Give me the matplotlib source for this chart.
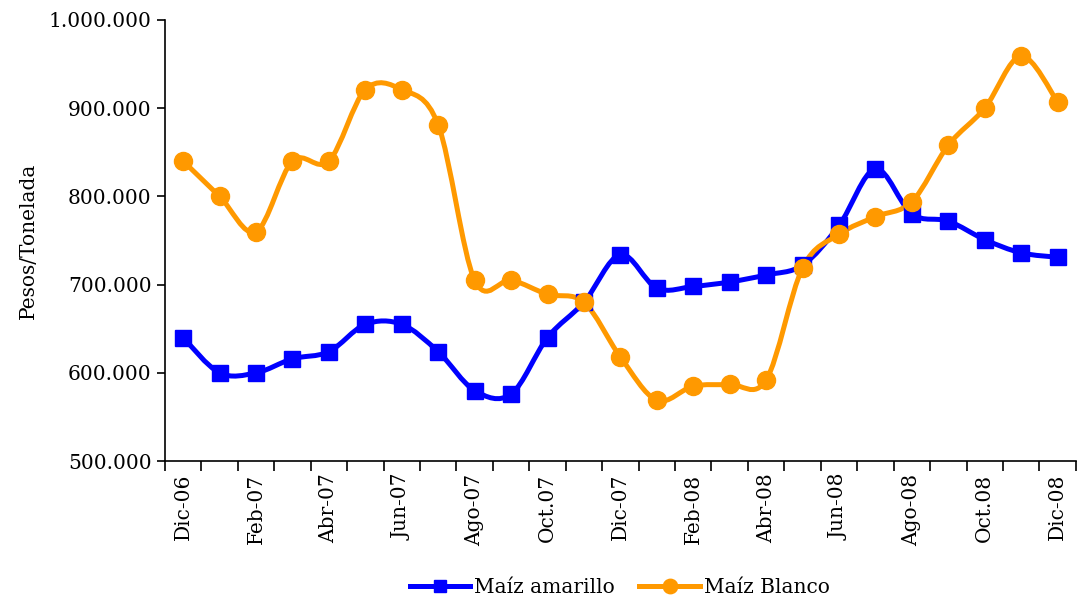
#!/usr/bin/env python3
import numpy as np
import matplotlib
matplotlib.use("Agg")
import matplotlib.pyplot as plt
from matplotlib.path import Path
from matplotlib.patches import PathPatch
from matplotlib.ticker import FuncFormatter, FixedLocator

meses = ["Dic-06", "Ene-07", "Feb-07", "Mar-07", "Abr-07", "May-07", "Jun-07",
         "Jul-07", "Ago-07", "Sep-07", "Oct.07", "Nov-07", "Dic-07", "Ene-08",
         "Feb-08", "Mar-08", "Abr-08", "May-08", "Jun-08", "Jul-08", "Ago-08",
         "Sep-08", "Oct.08", "Nov-08", "Dic-08"]

amarillo = [640000, 600000, 600000, 616000, 624000, 655000, 655000, 624000,
            580000, 576000, 640000, 680000, 734000, 696000, 698000, 703000,
            711000, 722000, 767000, 831000, 780000, 772000, 751000, 736000, 731000]

blanco = [840000, 800000, 760000, 840000, 840000, 921000, 921000, 881000,
          705000, 705000, 689000, 680000, 618000, 569000, 585000, 587000,
          592000, 719000, 757000, 777000, 794000, 858000, 900000, 959000, 907000]

AZUL = "#0000FF"
NARANJA = "#FF9900"


def smooth_path(x, y):
    # bezier curve like excel smoothed lines
    x = np.asarray(x, float)
    y = np.asarray(y, float)
    verts = [(x[0], y[0])]
    codes = [Path.MOVETO]
    n = len(x)
    for i in range(n - 1):
        i0 = max(i - 1, 0)
        i3 = min(i + 2, n - 1)
        c1 = (x[i] + (x[i + 1] - x[i0]) / 6, y[i] + (y[i + 1] - y[i0]) / 6)
        c2 = (x[i + 1] - (x[i3] - x[i]) / 6, y[i + 1] - (y[i3] - y[i]) / 6)
        verts += [c1, c2, (x[i + 1], y[i + 1])]
        codes += [Path.CURVE4] * 3
    return Path(verts, codes)


plt.rcParams['font.family'] = ['DejaVu Serif']
FS = 14.5

fig = plt.figure(figsize=(10.78, 6.02), dpi=100)
ax = fig.add_axes([0.153, 0.234, 0.845, 0.733])

xs = np.arange(len(meses))
for vals, col, mk, ms, lab in [(amarillo, AZUL, 's', 11, "Maíz amarillo"),
                               (blanco, NARANJA, 'o', 13, "Maíz Blanco")]:
    ax.add_patch(PathPatch(smooth_path(xs, vals), facecolor='none',
                           edgecolor=col, lw=3.6, capstyle='round'))
    ax.plot(xs, vals, ls='none', marker=mk, ms=ms, color=col)
    ax.plot([], [], color=col, lw=3.6, marker=mk, ms=ms * 0.8, label=lab)

ax.set_xlim(-0.5, len(meses) - 0.5)
ax.set_ylim(500000, 1000000)
ax.set_yticks(np.arange(500000, 1000001, 100000))
ax.yaxis.set_major_formatter(FuncFormatter(lambda v, p: f"{int(v):,}".replace(",", ".")))

ax.xaxis.set_major_locator(FixedLocator(np.arange(-0.5, len(meses), 1)))
ax.xaxis.set_minor_locator(FixedLocator(xs[::2]))
ax.set_xticklabels([])
ax.set_xticklabels(meses[::2], minor=True, rotation=90, fontsize=FS)
ax.tick_params(axis='x', which='major', length=7, width=1.2, direction='out')
ax.tick_params(axis='x', which='minor', length=0, pad=9)
ax.tick_params(axis='y', length=6, width=1.2, labelsize=FS)

ax.spines['top'].set_visible(False)
ax.spines['right'].set_visible(False)
ax.spines['left'].set_linewidth(1.2)
ax.spines['bottom'].set_linewidth(1.2)

ax.set_ylabel("Pesos/Tonelada", fontsize=FS, labelpad=8)

fig.legend(loc='lower center', bbox_to_anchor=(0.575, -0.022), ncol=2,
           frameon=False, fontsize=FS, handlelength=3, columnspacing=1.2,
           handletextpad=0.2)

fig.savefig("out.png", dpi=100)
